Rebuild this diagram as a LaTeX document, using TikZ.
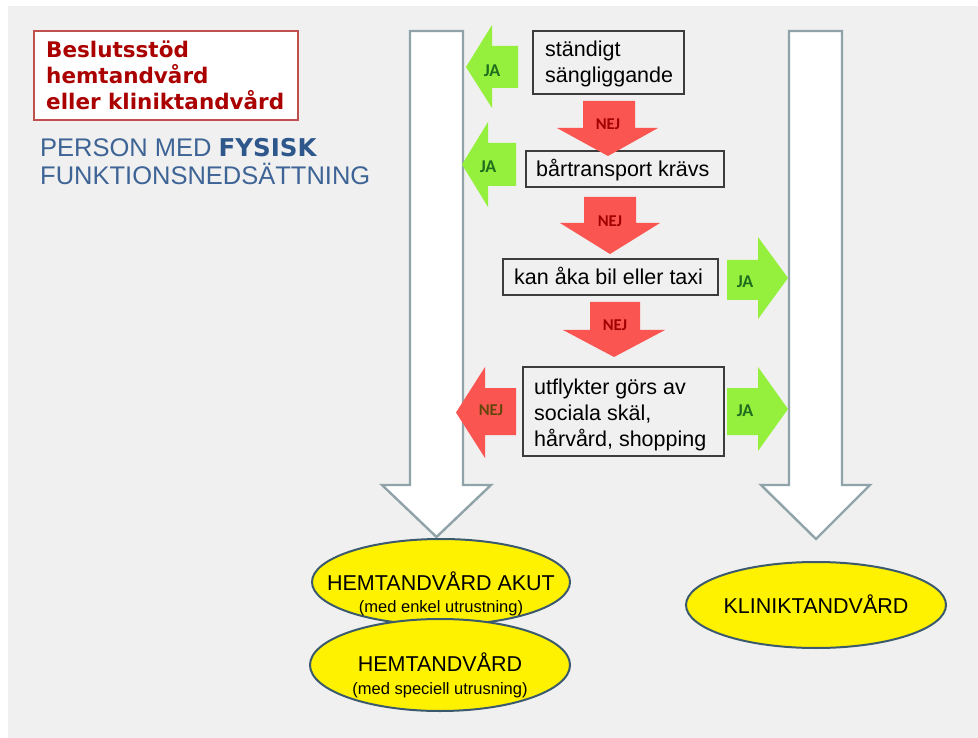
\documentclass[tikz,border=0pt]{standalone}
\usepackage{fontspec}
\usetikzlibrary{shapes.geometric}
\setmainfont{Liberation Sans}
\newfontfamily\titlefont{DejaVu Sans}
\newfontfamily\labfont{Carlito}
\definecolor{bggrey}{RGB}{240,240,240}
\definecolor{bigstroke}{RGB}{143,163,168}
\definecolor{jagreen}{RGB}{148,240,60}
\definecolor{nejred}{RGB}{250,85,80}
\definecolor{jatext}{RGB}{30,110,30}
\definecolor{nejtext}{RGB}{160,0,0}
\definecolor{nejtextb}{RGB}{100,70,10}
\definecolor{titlered}{RGB}{170,0,0}
\definecolor{titleframe}{RGB}{192,80,77}
\definecolor{persblue}{RGB}{62,100,150}
\definecolor{persbold}{RGB}{46,88,140}
\definecolor{ellframe}{RGB}{60,90,110}
\definecolor{boxframe}{RGB}{60,60,60}
\begin{document}
\begin{tikzpicture}[x=1pt,y=-1pt,
  bigarrow/.style={draw=bigstroke,line width=2.4pt,fill=white,line join=miter},
  yesarrow/.style={fill=jagreen,draw=none},
  noarrow/.style={fill=nejred,draw=none},
  jalab/.style={font=\labfont\bfseries\fontsize{18}{20}\selectfont,text=jatext,inner sep=0pt},
  nejlab/.style={font=\labfont\bfseries\fontsize{16.5}{18}\selectfont,text=nejtext,inner sep=0pt},
  qbox/.style={draw=boxframe,line width=1.2pt,fill=bggrey,rectangle,inner sep=0pt},
  qtext/.style={font=\fontsize{21.5}{26}\selectfont,anchor=base west,inner sep=0pt},
  outcome/.style={ellipse,draw=ellframe,line width=2pt,fill=yellow,inner sep=0pt},
  bigtxt/.style={font=\fontsize{21.5}{24}\selectfont,inner sep=0pt,anchor=base},
  smalltxt/.style={font=\fontsize{16.5}{18}\selectfont,inner sep=0pt,anchor=base},
  ttl/.style={font=\titlefont\bfseries\fontsize{21.5}{26}\selectfont,text=titlered,anchor=base west,inner sep=0pt},
  pers/.style={font=\fontsize{25.5}{30}\selectfont,text=persblue,anchor=base west,inner sep=0pt}
]
\useasboundingbox (0,0) rectangle (978,738);
\fill[white] (0,0) rectangle (978,738);
\fill[bggrey] (8,6) rectangle (978,738);

% title
\node[draw=titleframe,line width=2pt,fill=white,minimum width=264pt,minimum height=89pt,inner sep=0pt] (titlebox) at (166,76) {};
\node[ttl] (t1) at (46,58) {Beslutsstöd};
\node[ttl] (t2) at (46,84) {hemtandvård};
\node[ttl] (t3) at (46,110) {eller kliniktandvård};
\node[pers] (p1) at (40,157) {PERSON MED {\titlefont\bfseries\fontsize{24.5}{30}\selectfont\textcolor{persbold}{FYSISK}}};
\node[pers] (p2) at (40,185) {FUNKTIONSNEDSÄTTNING};

% big hollow arrows
\draw[bigarrow] (410,31) -- (463,31) -- (463,485) -- (491,485) -- (436.5,537) -- (382,485) -- (410,485) -- cycle;
\draw[bigarrow] (789,31) -- (842,31) -- (842,485) -- (870,485) -- (816,539) -- (761,485) -- (789,485) -- cycle;

% question boxes
\node[qbox,minimum width=151pt,minimum height=63pt] (q1) at (608.5,62.5) {};
\node[qtext] (q1a) at (545,57) {ständigt};
\node[qtext] (q1b) at (545,83) {sängliggande};
\node[qbox,minimum width=198pt,minimum height=36pt] (q2) at (625,169) {};
\node[qtext] (q2a) at (536,177) {bårtransport krävs};
\node[qbox,minimum width=215pt,minimum height=36pt] (q3) at (610.5,277) {};
\node[qtext] (q3a) at (514,285) {kan åka bil eller taxi};
\node[qbox,minimum width=201pt,minimum height=89pt] (q4) at (623.5,411.5) {};
\node[qtext] (q4a) at (534,394) {utflykter görs av};
\node[qtext] (q4b) at (534,420) {sociala skäl,};
\node[qtext] (q4c) at (534,446) {hårvård, shopping};

% JA arrows (green)
\fill[yesarrow] (466,67) -- (492,25) -- (492,46) -- (518,46) -- (518,88) -- (492,88) -- (492,108) -- cycle;
\node[jalab] (ja1) at (492,71) {JA};
\fill[yesarrow] (462,164.5) -- (488,122) -- (488,143) -- (516,143) -- (516,186) -- (488,186) -- (488,207) -- cycle;
\node[jalab] (ja2) at (488,167) {JA};
\fill[yesarrow] (727,260) -- (758,260) -- (758,237) -- (788,278) -- (758,319) -- (758,300) -- (727,300) -- cycle;
\node[jalab] (ja3) at (745,282) {JA};
\fill[yesarrow] (727,388) -- (758,388) -- (758,367) -- (788,409) -- (758,451) -- (758,435) -- (727,435) -- cycle;
\node[jalab] (ja4) at (745,411) {JA};

% NEJ arrows (red)
\fill[noarrow] (583,101) -- (635,101) -- (635,128) -- (658,128) -- (608,156) -- (557,128) -- (583,128) -- cycle;
\node[nejlab] (nej1) at (608,124) {NEJ};
\fill[noarrow] (584,197) -- (636,197) -- (636,223) -- (660,223) -- (610,254) -- (560,223) -- (584,223) -- cycle;
\node[nejlab] (nej2) at (610,221) {NEJ};
\fill[noarrow] (590,302) -- (640,302) -- (640,330) -- (665,330) -- (614,357) -- (563,330) -- (590,330) -- cycle;
\node[nejlab] (nej3) at (615,325) {NEJ};
\fill[noarrow] (456,412.5) -- (485,367) -- (485,388) -- (516,388) -- (516,435) -- (485,435) -- (485,458) -- cycle;
\node[nejlab,text=nejtextb] (nej4) at (491,410) {NEJ};

% outcomes
\node[outcome,minimum width=258pt,minimum height=86pt] (akut) at (441,582) {};
\node[bigtxt] (akuta) at (441,590) {HEMTANDVÅRD AKUT};
\node[smalltxt] (akutb) at (441,612) {(med enkel utrustning)};
\node[outcome,minimum width=260pt,minimum height=92pt] (hem) at (440,665) {};
\node[bigtxt] (hema) at (440,671) {HEMTANDVÅRD};
\node[smalltxt] (hemb) at (440,694) {(med speciell utrusning)};
\node[outcome,minimum width=260pt,minimum height=86pt] (klin) at (816,605) {};
\node[bigtxt] (klina) at (816,613) {KLINIKTANDVÅRD};
\end{tikzpicture}
\end{document}
